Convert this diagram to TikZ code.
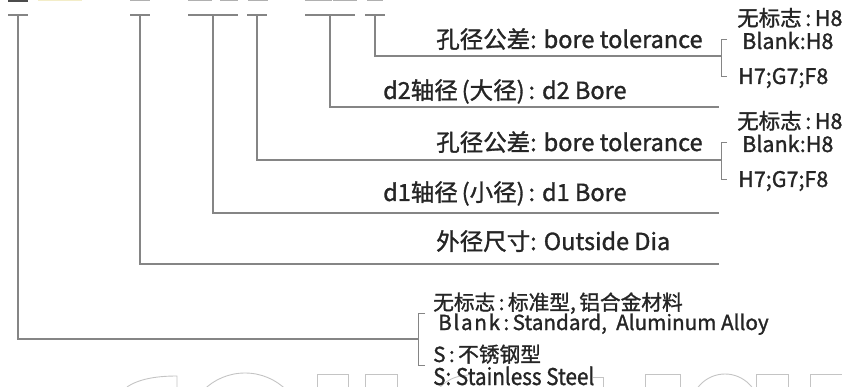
\documentclass[tikz,border=0pt]{standalone}
\usepackage{fontspec}
\setmainfont{Noto Sans CJK SC}[FakeBold=1.3]
\usetikzlibrary{calc}
\definecolor{ln}{HTML}{858585}
\definecolor{tx}{HTML}{252525}
\definecolor{wm}{HTML}{C4C4C4}
\definecolor{cut}{HTML}{B0B0B0}
\definecolor{cuty}{HTML}{F3EDC8}
\begin{document}
\begin{tikzpicture}[x=1pt,y=-1pt,
  conn/.style={draw=ln,line width=1.3pt},
  brk/.style={draw=ln,line width=1pt},
  lbl/.style={anchor=base west,inner sep=0pt,text=tx,font=\fontsize{23.5}{23.5}\selectfont},
  opt/.style={lbl,font=\fontsize{21.5}{21.5}\selectfont},
  mat/.style={lbl,font=\fontsize{20.7}{20.7}\selectfont},
  wmark/.style={draw=wm,line width=0.9pt},
  cutbar/.style={fill=cut,draw=none}]
\useasboundingbox (0,0) rectangle (842,387);

% watermark tops
\draw[wmark] (127,387) .. controls (140,378) and (160,376) .. (177,376) -- (177,387);
\draw[wmark] (245,432) circle (59);
\draw[wmark] (317,392) |- (348,374) -- (348,392);
\draw[wmark] (365,392) |- (397,374) -- (397,392);
\draw[wmark] (436,392) .. controls (445,380) and (455,376) .. (468,375);
\draw[wmark] (593,377) -- (603,377) -- (603,392);
\draw[wmark] (645,392) |- (680,374) -- (680,392);
\draw[wmark] (725,408) circle (34);
\draw[wmark] (756,392) |- (788,374) -- (788,392);
\draw[wmark] (810,392) |- (842,374);

% cut-off marks at the top edge
\fill[black!70] (8,0) rectangle (28,1.6);
\fill[cuty] (38,0) rectangle (82,1.4);
\foreach \a/\b in {130/150,188/212,220/238,248/268,305/332,333/357,367/383}
  \fill[cut] (\a,0) rectangle (\b,1.4);

% tick points
\coordinate (t1) at (18,15);
\coordinate (t2) at (140,15);
\coordinate (t3) at (213,15);
\coordinate (t4) at (257,15);
\coordinate (t5) at (330,15);
\coordinate (t6) at (375,15);
\foreach \p/\w in {t1/10,t2/10,t3/25,t4/10,t5/25,t6/10}
  \draw[conn] ($(\p)+(-\w,0)$) -- ($(\p)+(\w,0)$);

% ends of the leader lines
\coordinate (b1) at (721,56);
\coordinate (e2) at (719,107);
\coordinate (b2) at (721,160);
\coordinate (e4) at (719,213);
\coordinate (e5) at (719,264);
\coordinate (b6) at (418,339);

\draw[conn] (t6) |- (b1);
\draw[conn] (t5) |- (e2);
\draw[conn] (t4) |- (b2);
\draw[conn] (t3) |- (e4);
\draw[conn] (t2) |- (e5);
\draw[conn] (t1) |- (b6);

% brackets
\draw[brk] ($(b1)+(6,-16)$) -- ++(-6,0) -- ++(0,37) -- ++(6,0);
\draw[brk] ($(b2)+(6,-17)$) -- ++(-6,0) -- ++(0,37) -- ++(6,0);
\draw[brk] ($(b6)+(7,-26)$) -- ++(-7,0) -- ++(0,52) -- ++(7,0);

% labels
\node[lbl] (l1) at (436,48) {孔径公差: bore tolerance};
\node[lbl] (l2) at (383,99) {d2轴径\,(大径)\,: d2 Bore};
\node[lbl] (l3) at (436,151) {孔径公差: bore tolerance};
\node[lbl] (l4) at (383,201) {d1轴径\,(小径)\,: d1 Bore};
\node[lbl] (l5) at (436,250) {外径尺寸: Outside Dia};

\node[opt] (o1a) at (737,26) {无标志\,:\,H8};
\node[opt] (o1b) at (742,49) {Blank:H8};
\node[opt] (o1c) at (738,84) {H7;G7;F8};
\node[opt] (o2a) at (737,129) {无标志\,:\,H8};
\node[opt] (o2b) at (742,152) {Blank:H8};
\node[opt] (o2c) at (738,187) {H7;G7;F8};

\node[mat] (m1) at (433,310) {无标志\,:\,标准型,\,铝合金材料};
\node[mat] (m2) at (438,330) {{\addfontfeature{LetterSpace=8}Blank}\,:\,Standard,\ \ Aluminum Alloy};
\node[mat] (m3) at (433,362) {S\,:\,不锈钢型};
\node[mat] (m4) at (433,385) {\scalebox{0.94}[1.05]{\fontsize{22}{22}\selectfont S: Stainless Steel}};
\end{tikzpicture}
\end{document}
